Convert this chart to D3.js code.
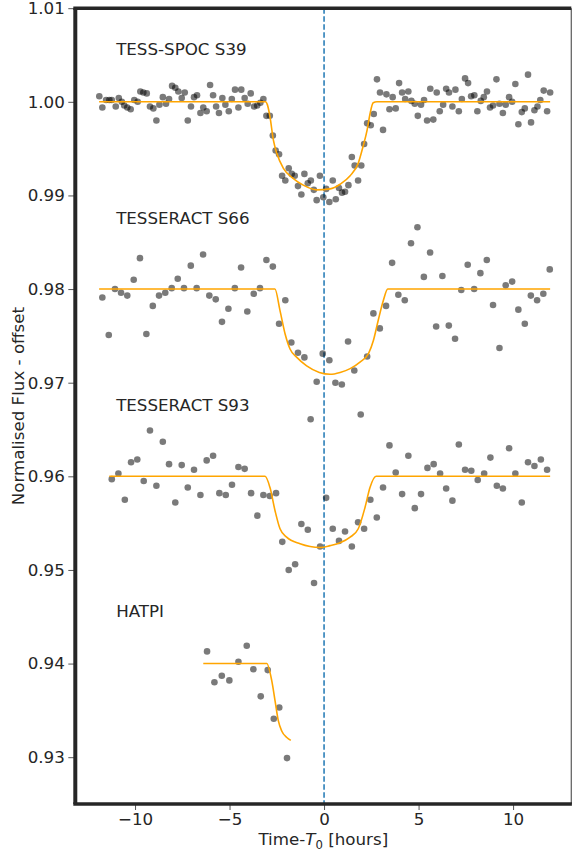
<!DOCTYPE html>
<html>

<head>
    <meta charset="utf-8">
    <style>
        body {
            margin: 0;
            background: #fff;
        }

        text {
            font-family: "DejaVu Sans", sans-serif;
            fill: #262626;
        }
    </style>
    <script src="https://cdn.jsdelivr.net/npm/d3@7/dist/d3.min.js"></script>
    <title>Transit light curves</title>
</head>

<body>
    <div id="chart"></div>

    <script>
        // Observed points [time from T0 in hours, normalised flux - offset]
        const s39Points = [
            [-11.89, 1.0006], [-11.73, 0.9994], [-11.53, 1.0002], [-11.36, 1.0002], [-11.23, 1.0002], [-11.02, 0.9995],
            [-10.86, 1.0004], [-10.70, 1.0000], [-10.57, 0.9996], [-10.41, 0.9994], [-10.23, 0.9992], [-10.04, 1.0002],
            [-9.86, 1.0000], [-9.72, 1.0011], [-9.56, 1.0010], [-9.38, 1.0009], [-9.21, 0.9995], [-9.03, 0.9993],
            [-8.87, 0.9980], [-8.71, 0.9997], [-8.53, 1.0005], [-8.36, 0.9998], [-8.20, 1.0003], [-8.04, 1.0017],
            [-7.87, 1.0015], [-7.71, 1.0011], [-7.53, 1.0004], [-7.37, 1.0010], [-7.21, 0.9980], [-7.04, 0.9995],
            [-6.88, 1.0005], [-6.72, 1.0007], [-6.54, 0.9988], [-6.39, 0.9994], [-6.21, 0.9990], [-6.03, 1.0018],
            [-5.87, 1.0007], [-5.71, 0.9995], [-5.56, 0.9988], [-5.38, 1.0004], [-5.22, 0.9997], [-5.04, 0.9990],
            [-4.88, 1.0003], [-4.71, 1.0013], [-4.53, 0.9994], [-4.38, 1.0013], [-4.20, 1.0004], [-4.04, 0.9998],
            [-3.88, 1.0009], [-3.70, 0.9995], [-3.54, 0.9996], [-3.37, 0.9999], [-3.21, 1.0003], [-3.05, 0.9985],
            [-2.87, 0.9985], [-2.71, 0.9964], [-2.56, 0.9948], [-2.38, 0.9944], [-2.22, 0.9921], [-2.05, 0.9916],
            [-1.87, 0.9929], [-1.71, 0.9923], [-1.55, 0.9921], [-1.38, 0.9910], [-1.20, 0.9901], [-1.04, 0.9923],
            [-0.86, 0.9913], [-0.70, 0.9916], [-0.54, 0.9906], [-0.39, 0.9895], [-0.22, 0.9921], [-0.04, 0.9898],
            [0.11, 0.9907], [0.28, 0.9893], [0.46, 0.9916], [0.62, 0.9896], [0.79, 0.9908], [0.95, 0.9903],
            [1.11, 0.9904], [1.29, 0.9911], [1.47, 0.9941], [1.62, 0.9932], [1.80, 0.9916], [1.97, 0.9932],
            [2.12, 0.9955], [2.28, 0.9977], [2.47, 0.9975], [2.63, 0.9987], [2.80, 1.0024], [2.96, 1.0010],
            [3.12, 0.9970], [3.30, 1.0008], [3.46, 0.9992], [3.63, 1.0005], [3.79, 0.9993], [3.97, 1.0020],
            [4.13, 1.0010], [4.29, 1.0003], [4.46, 1.0011], [4.62, 1.0001], [4.80, 0.9998], [4.96, 0.9985],
            [5.13, 0.9997], [5.29, 1.0002], [5.45, 0.9980], [5.62, 1.0014], [5.78, 0.9981], [5.96, 1.0010],
            [6.12, 0.9990], [6.30, 0.9997], [6.46, 1.0014], [6.61, 1.0010], [6.79, 0.9995], [6.95, 1.0013],
            [7.13, 0.9990], [7.29, 1.0003], [7.46, 1.0025], [7.62, 1.0020], [7.78, 1.0006], [7.95, 1.0007],
            [8.11, 0.9990], [8.29, 1.0001], [8.45, 1.0005], [8.62, 1.0011], [8.78, 0.9994], [8.94, 0.9996],
            [9.12, 1.0024], [9.28, 0.9998], [9.46, 0.9988], [9.61, 0.9997], [9.79, 1.0005], [9.95, 1.0000],
            [10.12, 1.0019], [10.28, 0.9976], [10.46, 0.9989], [10.62, 0.9993], [10.79, 1.0029], [10.95, 0.9978],
            [11.13, 0.9991], [11.29, 0.9995], [11.44, 1.0002], [11.62, 1.0012], [11.80, 0.9990], [11.96, 1.0010]
        ];

        const s66Points = [
            [-11.73, 0.9791], [-11.39, 0.9751], [-11.06, 0.9800], [-10.74, 0.9796], [-10.41, 0.9793], [-10.07, 0.9810],
            [-9.74, 0.9833], [-9.40, 0.9752], [-9.06, 0.9782], [-8.73, 0.9793], [-8.40, 0.9796], [-8.06, 0.9801],
            [-7.74, 0.9811], [-7.41, 0.9801], [-7.05, 0.9825], [-6.74, 0.9801], [-6.40, 0.9837], [-6.07, 0.9793],
            [-5.73, 0.9789], [-5.40, 0.9765], [-5.06, 0.9779], [-4.72, 0.9801], [-4.39, 0.9823], [-4.06, 0.9776],
            [-3.72, 0.9795], [-3.39, 0.9801], [-3.05, 0.9831], [-2.71, 0.9824], [-2.38, 0.9763], [-2.05, 0.9788],
            [-1.73, 0.9743], [-1.38, 0.9732], [-1.04, 0.9727], [-0.71, 0.9661], [-0.39, 0.9701], [-0.07, 0.9731],
            [0.28, 0.9724], [0.60, 0.9700], [0.94, 0.9698], [1.27, 0.9744], [1.60, 0.9713], [1.94, 0.9666],
            [2.28, 0.9728], [2.61, 0.9774], [2.95, 0.9758], [3.28, 0.9782], [3.60, 0.9828], [3.93, 0.9794],
            [4.27, 0.9788], [4.60, 0.9849], [4.94, 0.9866], [5.28, 0.9813], [5.61, 0.9839], [5.93, 0.9760],
            [6.26, 0.9814], [6.60, 0.9761], [6.93, 0.9747], [7.26, 0.9799], [7.60, 0.9826], [7.94, 0.9800],
            [8.27, 0.9817], [8.61, 0.9831], [8.94, 0.9783], [9.28, 0.9737], [9.61, 0.9804], [9.95, 0.9808],
            [10.28, 0.9778], [10.62, 0.9763], [10.94, 0.9793], [11.27, 0.9788], [11.60, 0.9795], [11.94, 0.9821]
        ];

        const s93Points = [
            [-11.23, 0.9597], [-10.88, 0.9603], [-10.54, 0.9575], [-10.21, 0.9615], [-9.88, 0.9618], [-9.54, 0.9595],
            [-9.21, 0.9649], [-8.87, 0.9590], [-8.53, 0.9637], [-8.20, 0.9613], [-7.87, 0.9572], [-7.53, 0.9612],
            [-7.21, 0.9588], [-6.88, 0.9607], [-6.54, 0.9580], [-6.21, 0.9617], [-5.87, 0.9622], [-5.54, 0.9582],
            [-5.20, 0.9580], [-4.87, 0.9591], [-4.53, 0.9610], [-4.20, 0.9608], [-3.86, 0.9582], [-3.53, 0.9558],
            [-3.21, 0.9580], [-2.87, 0.9579], [-2.54, 0.9582], [-2.21, 0.9530], [-1.87, 0.9500], [-1.53, 0.9506],
            [-1.20, 0.9549], [-0.86, 0.9543], [-0.53, 0.9486], [-0.21, 0.9525], [0.11, 0.9577], [0.46, 0.9544],
            [0.79, 0.9531], [1.11, 0.9541], [1.47, 0.9525], [1.80, 0.9551], [2.12, 0.9544], [2.45, 0.9575],
            [2.79, 0.9556], [3.12, 0.9588], [3.46, 0.9633], [3.79, 0.9604], [4.13, 0.9581], [4.46, 0.9622],
            [4.80, 0.9566], [5.13, 0.9581], [5.47, 0.9609], [5.80, 0.9613], [6.14, 0.9603], [6.46, 0.9587],
            [6.79, 0.9574], [7.13, 0.9634], [7.46, 0.9607], [7.79, 0.9606], [8.13, 0.9596], [8.47, 0.9603],
            [8.80, 0.9620], [9.14, 0.9590], [9.46, 0.9587], [9.79, 0.9630], [10.12, 0.9603], [10.46, 0.9572],
            [10.79, 0.9615], [11.13, 0.9611], [11.47, 0.9618], [11.80, 0.9607]
        ];

        const hatpiPoints = [
            [-6.19, 0.9413], [-5.80, 0.9380], [-5.41, 0.9387], [-5.01, 0.9382], [-4.53, 0.9402], [-4.09, 0.9419],
            [-3.74, 0.9394], [-3.35, 0.9365], [-2.98, 0.9393], [-2.66, 0.9341], [-2.37, 0.9353], [-1.96, 0.9299]
        ];

        // Fitted transit model
        const s39Model = [
            [-11.9, 1.0], [-3.1, 1.0], [-3.0, 0.9997], [-2.86, 0.9984], [-2.68, 0.9959], [-2.5, 0.9945],
            [-2.15, 0.9929], [-1.62, 0.9918], [-1.1, 0.9911], [-0.39, 0.9906], [0.32, 0.9907], [0.85, 0.9912],
            [1.38, 0.9921], [1.8, 0.9934], [2.06, 0.9952], [2.28, 0.9970], [2.43, 0.9987], [2.6, 0.9999],
            [2.8, 1.0], [11.96, 1.0]
        ];
        const s66Model = [
            [-11.9, 0.98], [-2.6, 0.98], [-2.33, 0.9777], [-2.06, 0.9752], [-1.8, 0.9736], [-1.44, 0.9727],
            [-0.92, 0.9718], [-0.25, 0.9711], [0.32, 0.9709], [0.85, 0.9711], [1.38, 0.9715], [1.9, 0.9722],
            [2.35, 0.9731], [2.61, 0.9745], [2.87, 0.9767], [3.14, 0.9788], [3.37, 0.98], [11.96, 0.98]
        ];
        const s93Model = [
            [-11.36, 0.96], [-3.12, 0.96], [-2.86, 0.9588], [-2.59, 0.9563], [-2.33, 0.9544], [-1.98, 0.9535],
            [-1.27, 0.9528], [-0.21, 0.9524], [0.32, 0.9526], [0.85, 0.9529], [1.38, 0.9535], [1.81, 0.9544],
            [2.17, 0.9567], [2.43, 0.9588], [2.75, 0.96], [11.96, 0.96]
        ];
        const hatpiModel = [
            [-6.39, 0.94], [-3.03, 0.94], [-2.77, 0.9382], [-2.59, 0.9360], [-2.42, 0.9339], [-2.24, 0.9328],
            [-1.97, 0.9321], [-1.76, 0.9318]
        ];

        const labels = ["TESS-SPOC S39", "TESSERACT S66", "TESSERACT S93", "HATPI"];
        const labelPos = [[-11, 1.005], [-11, 0.987], [-11, 0.967], [-11, 0.945]];

        const xTicks = [-10, -5, 0, 5, 10];
        const yTicks = [0.93, 0.94, 0.95, 0.96, 0.97, 0.98, 0.99, 1.00, 1.01];

        const width = 572, height = 852;
        const margin = { top: 8.2, right: 0.7, bottom: 48, left: 75.3 };

        const svg = d3.select("#chart").append("svg")
            .attr("width", width)
            .attr("height", height);

        const x = d3.scaleLinear()
            .domain([-13.16, 13.08])
            .range([margin.left, width - margin.right]);

        const y = d3.scaleLinear()
            .domain([0.925, 1.01])
            .range([height - margin.bottom, margin.top]);

        const fontSize = 16.7;

        // zero line
        svg.append("line")
            .attr("x1", x(0)).attr("x2", x(0))
            .attr("y1", y(1.01)).attr("y2", y(0.925))
            .attr("stroke", "#1f77b4")
            .attr("stroke-width", 1.5)
            .attr("stroke-dasharray", "5.5,2.5");

        const allPoints = s39Points.concat(s66Points, s93Points, hatpiPoints);
        svg.append("g").selectAll("circle")
            .data(allPoints)
            .enter().append("circle")
            .attr("cx", d => x(d[0]))
            .attr("cy", d => y(d[1]))
            .attr("r", 3.3)
            .attr("fill", "#000")
            .attr("fill-opacity", 0.52);

        const line = d3.line()
            .x(d => x(d[0]))
            .y(d => y(d[1]))
            .curve(d3.curveMonotoneX);

        [s39Model, s66Model, s93Model, hatpiModel].forEach(m => {
            svg.append("path")
                .attr("d", line(m))
                .attr("fill", "none")
                .attr("stroke", "orange")
                .attr("stroke-width", 1.6);
        });

        // series labels
        svg.append("g").selectAll("text")
            .data(labels)
            .enter().append("text")
            .attr("x", (d, i) => x(labelPos[i][0]))
            .attr("y", (d, i) => y(labelPos[i][1]))
            .attr("font-size", fontSize)
            .text(d => d);

        // axes
        const xAxis = svg.append("g")
            .attr("transform", `translate(0,${y(0.925)})`)
            .call(d3.axisBottom(x).tickValues(xTicks).tickSize(6).tickPadding(3).tickFormat(d3.format("d")));
        const yAxis = svg.append("g")
            .attr("transform", `translate(${x(-13.16)},0)`)
            .call(d3.axisLeft(y).tickValues(yTicks).tickSize(7).tickPadding(3.5).tickFormat(d3.format(".2f")));

        [xAxis, yAxis].forEach(a => {
            a.select(".domain").remove();
            a.selectAll(".tick line").attr("stroke", "#555").attr("stroke-width", 1);
            a.selectAll(".tick text")
                .attr("font-family", "DejaVu Sans")
                .attr("font-size", fontSize)
                .attr("fill", "#262626");
        });

        // frame
        const x0 = x(-13.16), x1 = x(13.08), y0 = y(0.925), y1 = y(1.01);
        svg.append("line").attr("x1", x1).attr("x2", x1).attr("y1", y1).attr("y2", y0)
            .attr("stroke", "#666").attr("stroke-width", 1.3);
        svg.append("line").attr("x1", x0 - 2).attr("x2", x1).attr("y1", y1).attr("y2", y1)
            .attr("stroke", "#262626").attr("stroke-width", 3.5);
        svg.append("line").attr("x1", x0 - 2).attr("x2", x1 + 0.6).attr("y1", y0).attr("y2", y0)
            .attr("stroke", "#262626").attr("stroke-width", 3.5);
        svg.append("line").attr("x1", x0).attr("x2", x0).attr("y1", y1).attr("y2", y0)
            .attr("stroke", "#262626").attr("stroke-width", 4);

        // axis labels
        const xLabel = svg.append("text")
            .attr("x", (x0 + x1) / 2)
            .attr("y", 845)
            .attr("text-anchor", "middle")
            .attr("font-size", fontSize);
        xLabel.append("tspan").text("Time-");
        xLabel.append("tspan").attr("font-style", "italic").text("T");
        xLabel.append("tspan").attr("font-size", fontSize * 0.7).attr("dy", 3.5).text("0");
        xLabel.append("tspan").attr("dy", -3.5).text(" [hours]");

        svg.append("text")
            .attr("transform", `translate(24,${(y0 + y1) / 2}) rotate(-90)`)
            .attr("text-anchor", "middle")
            .attr("font-size", fontSize)
            .text("Normalised Flux - offset");
    </script>
</body>

</html>
